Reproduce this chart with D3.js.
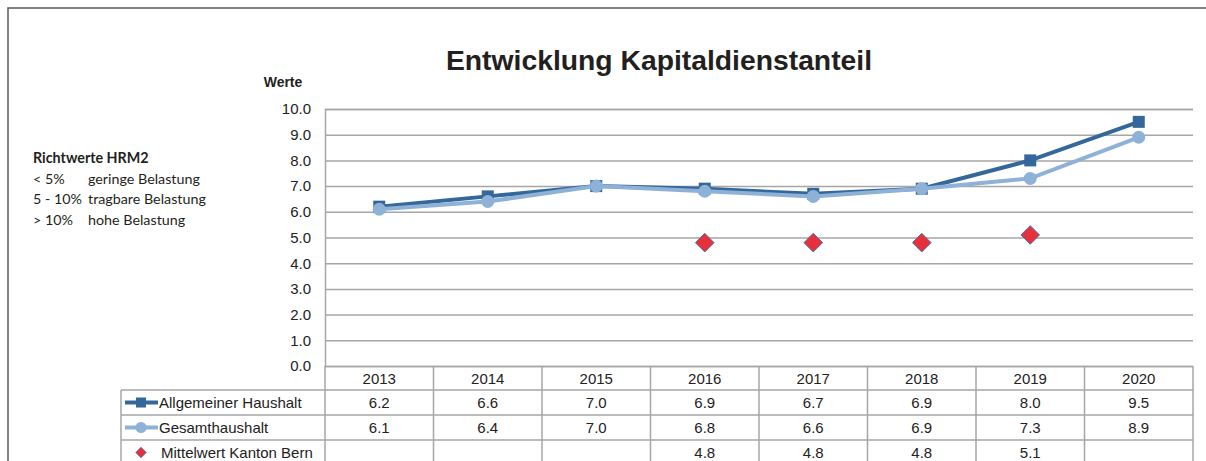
<!DOCTYPE html>
<html>
<head>
<meta charset="utf-8">
<script src="https://cdn.jsdelivr.net/npm/d3@7"></script>
<style>
  body { margin: 0; background: #fff; }
  svg { display: block; }
</style>
</head>
<body>
<div id="chart"></div>
<script>
"use strict";

// Daten
const years = ["2013", "2014", "2015", "2016", "2017", "2018", "2019", "2020"];
const allgemeiner = [6.2, 6.6, 7.0, 6.9, 6.7, 6.9, 8.0, 9.5];
const gesamt = [6.1, 6.4, 7.0, 6.8, 6.6, 6.9, 7.3, 8.9];
const mittelwert = [null, null, null, 4.8, 4.8, 4.8, 5.1, null];
const yTicks = [0, 1, 2, 3, 4, 5, 6, 7, 8, 9, 10];
const richtwerte = [["< 5%", "geringe Belastung"], ["5 - 10%", "tragbare Belastung"], ["> 10%", "hohe Belastung"]];

const W = 1206, H = 461;
const plot = { left: 325, right: 1193, top: 109, bottom: 366 };
const font = "Liberation Sans, Arial, sans-serif";
const dark = "#34679a", light = "#8db1d7", red = "#e8303a";

const svg = d3.select("#chart").append("svg")
    .attr("width", W)
    .attr("height", H);

// Rahmen
svg.append("rect")
    .attr("x", 8).attr("y", 8)
    .attr("width", W).attr("height", H)
    .attr("fill", "none")
    .attr("stroke", "#5a5a5a")
    .attr("stroke-width", 1.5);

const x = d3.scaleBand().domain(years).range([plot.left, plot.right]);
const y = d3.scaleLinear().domain([0, 10]).range([plot.bottom, plot.top]);

// Gitter + Y-Achse
const yAxis = svg.append("g")
    .attr("transform", `translate(${plot.left},0)`)
    .call(d3.axisLeft(y).tickValues(yTicks).tickFormat(d3.format(".1f"))
        .tickSize(-(plot.right - plot.left)).tickPadding(14));
yAxis.select(".domain").attr("stroke", "#a6a6a6").attr("stroke-width", 1.5);
yAxis.selectAll(".tick line").attr("stroke", "#a6a6a6").attr("stroke-width", 1.5);
yAxis.selectAll(".tick text").attr("font-family", font).attr("font-size", 15).attr("fill", "#222");

// Titel
svg.append("text")
    .attr("x", 659).attr("y", 70)
    .attr("text-anchor", "middle")
    .attr("font-family", font).attr("font-weight", "bold").attr("font-size", 28.3)
    .attr("fill", "#231f20")
    .text("Entwicklung Kapitaldienstanteil");

svg.append("text")
    .attr("x", 283).attr("y", 87)
    .attr("text-anchor", "middle")
    .attr("font-family", font).attr("font-weight", "bold").attr("font-size", 14)
    .attr("fill", "#231f20")
    .text("Werte");

// Richtwerte
const rw = svg.append("g").attr("font-family", "Lato, Carlito, sans-serif").attr("font-size", 14.3).attr("fill", "#231f20");
rw.append("text").attr("x", 33).attr("y", 163).attr("font-weight", "bold").text("Richtwerte HRM2");
richtwerte.forEach((r, i) => {
    rw.append("text").attr("x", 33).attr("y", 183.5 + i * 20.7).text(r[0]);
    rw.append("text").attr("x", 88).attr("y", 183.5 + i * 20.7).text(r[1]);
});

// Linien
const cx = d => x(d) + x.bandwidth() / 2;
const line = d3.line()
    .defined(d => d[1] != null)
    .x(d => cx(d[0]))
    .y(d => y(d[1]));

svg.append("path")
    .datum(years.map((yr, i) => [yr, allgemeiner[i]]))
    .attr("fill", "none").attr("stroke", dark).attr("stroke-width", 4)
    .attr("d", line);

svg.selectAll(".sq")
    .data(years.map((yr, i) => [yr, allgemeiner[i]]))
    .enter().append("rect")
    .attr("x", d => cx(d[0]) - 6).attr("y", d => y(d[1]) - 6)
    .attr("width", 12).attr("height", 12)
    .attr("fill", dark);

svg.append("path")
    .datum(years.map((yr, i) => [yr, gesamt[i]]))
    .attr("fill", "none").attr("stroke", light).attr("stroke-width", 4)
    .attr("d", line);

svg.selectAll(".dot")
    .data(years.map((yr, i) => [yr, gesamt[i]]))
    .enter().append("circle")
    .attr("cx", d => cx(d[0])).attr("cy", d => y(d[1]))
    .attr("r", 6.5)
    .attr("fill", light);

const diamond = d3.symbol().type(d3.symbolDiamond2).size(220);
svg.selectAll(".dia")
    .data(years.map((yr, i) => [yr, mittelwert[i]]).filter(d => d[1] != null))
    .enter().append("path")
    .attr("transform", d => `translate(${cx(d[0])},${y(d[1])})`)
    .attr("d", diamond)
    .attr("fill", red).attr("stroke", "#4a6fa5").attr("stroke-width", 1);

// Datentabelle
const rows = [
    { name: "Allgemeiner Haushalt", values: allgemeiner, type: "square" },
    { name: "Gesamthaushalt", values: gesamt, type: "circle" },
    { name: "Mittelwert Kanton Bern", values: mittelwert, type: "diamond" }
];
const rowTop = [366, 390, 415, 440];
const rowH = 25;
const legLeft = 121;
const tbl = svg.append("g");
const gridCol = "#a6a6a6";

// Kopfzeile
years.forEach(yr => {
    tbl.append("text")
        .attr("x", cx(yr)).attr("y", rowTop[0] + 18)
        .attr("text-anchor", "middle")
        .attr("font-family", font).attr("font-size", 15).attr("fill", "#222")
        .text(yr);
});

rows.forEach((r, i) => {
    const top = rowTop[i + 1];
    const mid = top + rowH / 2;
    r.values.forEach((v, j) => {
        if (v == null) return;
        tbl.append("text")
            .attr("x", cx(years[j])).attr("y", mid + 5.5)
            .attr("text-anchor", "middle")
            .attr("font-family", font).attr("font-size", 15).attr("fill", "#222")
            .text(d3.format(".1f")(v));
    });
    tbl.append("text")
        .attr("x", r.type === "diamond" ? 161 : 159).attr("y", mid + 5.5)
        .attr("font-family", font).attr("font-size", 15).attr("fill", "#222")
        .text(r.name);
    if (r.type === "square") {
        tbl.append("line").attr("x1", 125).attr("x2", 158).attr("y1", mid).attr("y2", mid)
            .attr("stroke", dark).attr("stroke-width", 4);
        tbl.append("rect").attr("x", 136).attr("y", mid - 5).attr("width", 10).attr("height", 10).attr("fill", dark);
    } else if (r.type === "circle") {
        tbl.append("line").attr("x1", 125).attr("x2", 158).attr("y1", mid).attr("y2", mid)
            .attr("stroke", light).attr("stroke-width", 4);
        tbl.append("circle").attr("cx", 141).attr("cy", mid).attr("r", 5.5).attr("fill", light);
    } else {
        tbl.append("path").attr("transform", `translate(141,${mid})`)
            .attr("d", d3.symbol().type(d3.symbolDiamond2).size(70))
            .attr("fill", red).attr("stroke", "#4a6fa5").attr("stroke-width", 0.8);
    }
});

// Tabellenlinien
const hLines = [rowTop[1], rowTop[2], rowTop[3]];
hLines.forEach(yy => {
    tbl.append("line").attr("x1", legLeft).attr("x2", plot.right).attr("y1", yy).attr("y2", yy)
        .attr("stroke", gridCol).attr("stroke-width", 1.5);
});
tbl.append("line").attr("x1", legLeft).attr("x2", legLeft).attr("y1", rowTop[1]).attr("y2", H)
    .attr("stroke", gridCol).attr("stroke-width", 1.5);
years.forEach(yr => {
    tbl.append("line").attr("x1", x(yr)).attr("x2", x(yr)).attr("y1", plot.bottom).attr("y2", H)
        .attr("stroke", gridCol).attr("stroke-width", 1.5);
});
tbl.append("line").attr("x1", plot.right).attr("x2", plot.right).attr("y1", plot.bottom).attr("y2", H)
    .attr("stroke", gridCol).attr("stroke-width", 1.5);
</script>
</body>
</html>
